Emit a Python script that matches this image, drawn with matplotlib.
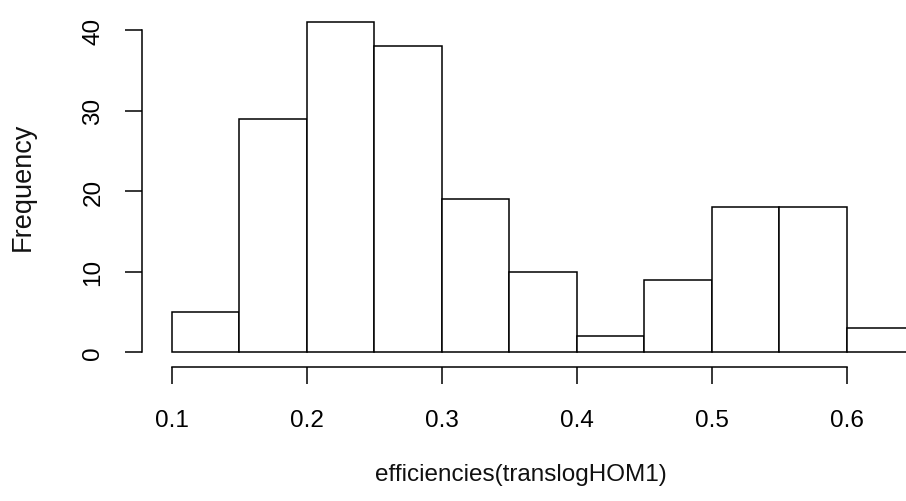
import numpy as np
import matplotlib.pyplot as plt

plt.rcParams['font.family'] = ['Liberation Sans', 'DejaVu Sans']

# histogram of efficiencies, bin width 0.05
bin_left = [0.10, 0.15, 0.20, 0.25, 0.30, 0.35, 0.40, 0.45, 0.50, 0.55, 0.60]
counts = [5, 29, 41, 38, 19, 10, 2, 9, 18, 18, 3]
bin_width = 0.05

x_ticks = [0.1, 0.2, 0.3, 0.4, 0.5, 0.6]
x_ticklabels = ['0.1', '0.2', '0.3', '0.4', '0.5', '0.6']
y_ticks = [0, 10, 20, 30, 40]

W, H = 906, 502
fig = plt.figure(figsize=(W / 100, H / 100), dpi=100)

# plot region in pixels (R style, runs past the right edge)
xlim = (0.078, 0.672)
ylim = (-1.86, 42.6)
px_x = 1350.0
px_y = 8.05
left_px, bottom_px = 142, 368
ax = fig.add_axes([left_px / W, (H - bottom_px) / H,
                   (xlim[1] - xlim[0]) * px_x / W,
                   (ylim[1] - ylim[0]) * px_y / H])

ax.bar(bin_left, counts, width=bin_width, align='edge',
       facecolor='white', edgecolor='black', linewidth=1.1)

ax.set_xlim(*xlim)
ax.set_ylim(*ylim)

for s in ['top', 'right']:
    ax.spines[s].set_visible(False)
ax.spines['left'].set_bounds(0, 40)
ax.spines['bottom'].set_bounds(0.1, 0.6)
ax.spines['left'].set_linewidth(1.1)
ax.spines['bottom'].set_linewidth(1.1)

ax.set_xticks(x_ticks)
ax.set_xticklabels(x_ticklabels)
ax.set_yticks(y_ticks)
ax.tick_params(axis='both', direction='out', length=12, width=1.1,
               labelsize=17.5, colors='black')
ax.tick_params(axis='x', pad=18)
ax.tick_params(axis='y', pad=15, labelrotation=90)
for lab in ax.get_yticklabels():
    lab.set_va('center')

fig.text(521 / W, 1 - 475 / H, 'efficiencies(translogHOM1)',
         ha='center', va='center', fontsize=17.5, color='#111111')
fig.text(23 / W, 1 - 187 / H, 'Frequency', rotation=90,
         ha='center', va='center', fontsize=19.5, color='#111111')

fig.savefig('out.png', dpi=100)
